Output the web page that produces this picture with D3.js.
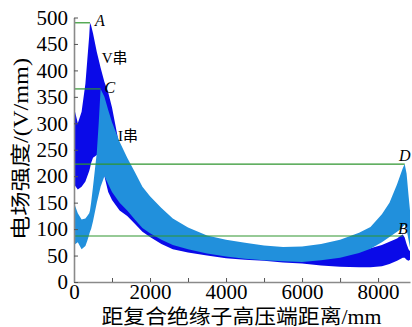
<!DOCTYPE html>
<html>
<head>
<meta charset="utf-8">
<script src="https://cdn.jsdelivr.net/npm/d3@7"></script>
<style>
  body { margin: 0; background: #fff; }
  svg { display: block; }
</style>
</head>
<body>
<svg width="412" height="327"></svg>
<script>
// distance from the high voltage end of the insulator, mm
var distance = [0, 100, 200, 300, 350, 400, 420, 450, 500, 600, 650, 700, 800, 900, 1000,
    1200, 1400, 1600, 1800, 2000, 2300, 2600, 3000, 3500, 4000, 4500, 5000, 5500, 6000,
    6500, 7000, 7500, 7800, 8100, 8300, 8500, 8600, 8650, 8700, 8750, 8800, 8840];

// V string: envelope of the oscillating field strength (V/mm)
var vUpper = [330, 300, 322, 375, 420, 465, 490, 485, 470, 435, 420, 405, 378, 358, 330,
    255, 225, 198, 170, 152, 130, 112, 96, 82, 74, 68, 63, 60, 60,
    60, 60, 60, 64, 70, 76, 82, 88, 90, 84, 72, 62, 58];
var vLower = [185, 175, 180, 190, 200, 210, 215, 225, 235, 240, 238, 230, 200, 170, 155,
    135, 125, 110, 95, 85, 72, 62, 56, 50, 45, 42, 40, 37, 35,
    31, 29, 28, 28, 30, 34, 40, 44, 46, 46, 42, 40, 42];

// I string
var iUpper = [150, 130, 118, 120, 125, 130, 135, 150, 180, 245, 300, 365, 350, 325, 302,
    265, 235, 208, 180, 162, 140, 120, 103, 88, 80, 74, 69, 66, 67,
    72, 80, 93, 104, 128, 150, 185, 205, 215, 223, 205, 165, 135];
var iLower = [70, 75, 62, 68, 78, 90, 95, 100, 115, 150, 165, 180, 200, 185, 170,
    150, 135, 118, 102, 92, 80, 70, 62, 54, 48, 44, 41, 39, 38,
    41, 46, 55, 63, 75, 85, 95, 100, 105, 108, 100, 80, 65];

var xTicks = [0, 1000, 2000, 3000, 4000, 5000, 6000, 7000, 8000];
var yTicks = [0, 50, 100, 150, 200, 250, 300, 350, 400, 450, 500];

// peak points with their reference lines
var peakNames = ['A', 'C', 'D', 'B'];
var peakX = [420, 700, 8700, 8650];
var peakY = [490, 365, 223, 87];

var svg = d3.select('svg');
var fontFamily = "'Liberation Serif', 'Noto Sans CJK SC', serif";

var x = d3.scaleLinear().domain([0, 8840]).range([74, 410]);
var y = d3.scaleLinear().domain([0, 500]).range([282, 17.5]);

function bandArea(upper, lower) {
    return d3.area()
        .x(function(d, i) { return x(distance[i]); })
        .y0(function(d, i) { return y(lower[i]); })
        .y1(function(d, i) { return y(upper[i]); })(distance);
}

// V string below, I string on top
svg.append('path')
    .attr('d', bandArea(vUpper, vLower))
    .attr('fill', '#0a0ae8');
svg.append('path')
    .attr('d', bandArea(iUpper, iLower))
    .attr('fill', '#2190dc');

// reference lines
peakNames.forEach(function(n, i) {
    svg.append('line')
        .attr('x1', x(0)).attr('x2', x(peakX[i]))
        .attr('y1', y(peakY[i])).attr('y2', y(peakY[i]))
        .attr('stroke', '#2e952e')
        .attr('stroke-width', 1.2);
});

// axes
var xAxis = d3.axisBottom(x)
    .tickValues(xTicks)
    .tickSizeInner(-4)
    .tickSizeOuter(0)
    .tickPadding(2)
    .tickFormat(function(d) { return d % 2000 === 0 ? d : ''; });
var yAxis = d3.axisLeft(y)
    .tickValues(yTicks)
    .tickSizeInner(-4)
    .tickSizeOuter(0)
    .tickPadding(6);

var gx = svg.append('g').attr('transform', 'translate(0,282)').call(xAxis);
var gy = svg.append('g').attr('transform', 'translate(74,0)').call(yAxis);

[gx, gy].forEach(function(g) {
    g.select('.domain').attr('stroke', '#8a8a8a').attr('stroke-width', 1.6);
    g.selectAll('.tick line').attr('stroke', '#555');
    g.selectAll('.tick text')
        .attr('fill', '#000')
        .style('font-family', fontFamily)
        .style('font-size', '21px');
});

// axis titles
svg.append('text')
    .attr('x', 241.5)
    .attr('y', 324)
    .attr('text-anchor', 'middle')
    .attr('textLength', 280)
    .attr('lengthAdjust', 'spacingAndGlyphs')
    .style('font-family', fontFamily)
    .style('font-size', '20px')
    .text('距复合绝缘子高压端距离/mm');

svg.append('text')
    .attr('transform', 'translate(28,149) rotate(-90)')
    .attr('text-anchor', 'middle')
    .attr('textLength', 182)
    .attr('lengthAdjust', 'spacingAndGlyphs')
    .style('font-family', fontFamily)
    .style('font-size', '20px')
    .text('电场强度/(V/mm)');

// peak labels
var labelDx = [5, 4, 0, 0];
var labelDy = [3, 4, -3, -2];
var labelAnchor = ['start', 'start', 'middle', 'middle'];
peakNames.forEach(function(n, i) {
    svg.append('text')
        .attr('x', x(peakX[i]) + labelDx[i])
        .attr('y', y(peakY[i]) + labelDy[i])
        .attr('text-anchor', labelAnchor[i])
        .style('font-family', fontFamily)
        .style('font-style', 'italic')
        .style('font-size', '16px')
        .text(n);
});

// series labels
svg.append('text')
    .attr('x', x(730)).attr('y', y(414))
    .style('font-family', fontFamily)
    .style('font-size', '15px')
    .text('V串');
svg.append('text')
    .attr('x', x(1160)).attr('y', y(266))
    .style('font-family', fontFamily)
    .style('font-size', '15px')
    .text('I串');
</script>
</body>
</html>
